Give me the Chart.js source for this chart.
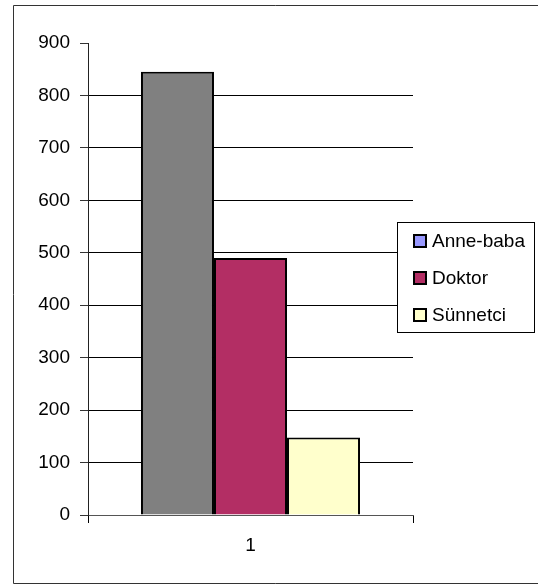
<!DOCTYPE html>
<html>
<head>
<meta charset="utf-8">
<script src="https://cdn.jsdelivr.net/npm/chart.js@4/dist/chart.umd.min.js"></script>
<style>
  html, body { margin: 0; padding: 0; background: #fff; }
  canvas { display: block; }
</style>
</head>
<body>
<canvas id="chart" width="538" height="585"></canvas>
<script>
// chart data
const categories = ['1'];
const seriesNames = ['Anne-baba', 'Doktor', 'Sünnetci'];
const anneBaba = [845];
const doktor = [490];
const sunnetci = [148];
const yMin = 0;
const yMax = 900;
const yStep = 100;

const barColors = ['#808080', '#B32E64', '#FFFFCC'];
const legendColors = ['#9999FF', '#B32E64', '#FFFFCC'];
const fontFamily = '"Liberation Sans", Arial, sans-serif';

// frame around the whole picture (left, top, bottom only - right side is cut off)
const framePlugin = {
    id: 'frame',
    beforeDraw: function (chart) {
        const c = chart.ctx;
        c.save();
        c.strokeStyle = '#333';
        c.lineWidth = 1;
        c.beginPath();
        c.moveTo(538, 5.5);
        c.lineTo(13.5, 5.5);
        c.lineTo(13.5, 583.5);
        c.lineTo(538, 583.5);
        c.stroke();
        c.restore();
    }
};

// legend box drawn on top of the plot, like the excel one
const boxLegendPlugin = {
    id: 'boxLegend',
    afterDraw: function (chart) {
        const c = chart.ctx;
        const x = 397.5, y = 222.5, w = 137, h = 110;
        c.save();
        c.fillStyle = '#fff';
        c.fillRect(x, y, w, h);
        c.strokeStyle = '#000';
        c.lineWidth = 1;
        c.strokeRect(x, y, w, h);
        c.font = '19px ' + fontFamily;
        c.textBaseline = 'middle';
        chart.data.datasets.forEach(function (ds, i) {
            const cy = 241 + i * 37;
            c.fillStyle = legendColors[i];
            c.fillRect(414, cy - 6, 12, 12);
            c.lineWidth = 2;
            c.strokeStyle = '#000';
            c.strokeRect(414, cy - 6, 12, 12);
            c.fillStyle = '#000';
            c.fillText(ds.label, 432, cy + 1);
        });
        c.restore();
    }
};

const seriesValues = [anneBaba, doktor, sunnetci];

new Chart(document.getElementById('chart'), {
    type: 'bar',
    data: {
        labels: categories,
        datasets: seriesNames.map(function (name, i) {
            return {
                label: name,
                data: seriesValues[i],
                backgroundColor: barColors[i],
                borderColor: '#000',
                borderWidth: 2,
                categoryPercentage: 0.674,
                barPercentage: 1
            };
        })
    },
    options: {
        responsive: false,
        animation: false,
        layout: { padding: { left: 0, right: 125, top: 43, bottom: 0 } },
        plugins: {
            legend: { display: false },
            tooltip: { enabled: false }
        },
        scales: {
            x: {
                offset: true,
                grid: {
                    offset: true,
                    drawOnChartArea: false,
                    tickLength: 8,
                    color: '#000'
                },
                border: { display: true, color: '#555', width: 1 },
                ticks: {
                    color: '#000',
                    padding: 11,
                    font: { family: fontFamily, size: 19 }
                },
                afterFit: function (scale) { scale.height = 70; }
            },
            y: {
                min: yMin,
                max: yMax,
                ticks: {
                    stepSize: yStep,
                    color: '#000',
                    padding: 10,
                    font: { family: fontFamily, size: 19 }
                },
                grid: {
                    tickLength: 8,
                    color: function (ctx) {
                        return ctx.tick && ctx.tick.value === yMax ? 'rgba(0,0,0,0)' : '#000';
                    },
                    tickColor: '#333'
                },
                border: { display: true, color: '#222', width: 1 },
                afterFit: function (scale) { scale.width = 88; }
            }
        }
    },
    plugins: [framePlugin, boxLegendPlugin]
});
</script>
</body>
</html>
